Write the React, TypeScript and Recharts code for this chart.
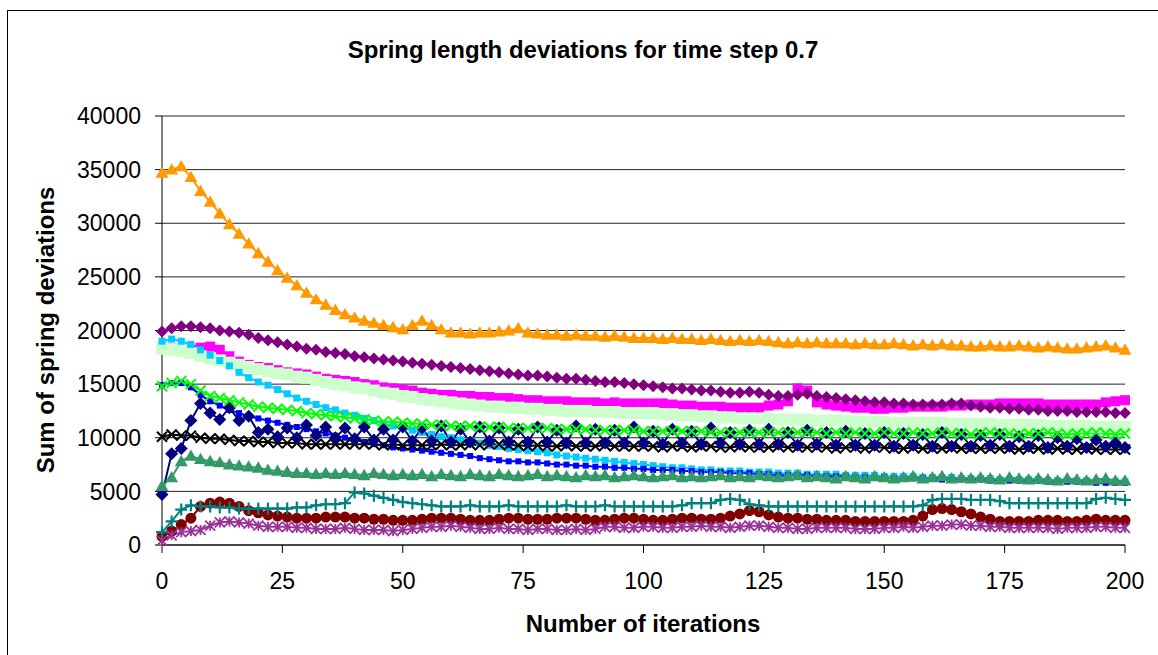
import React from 'react';
import { LineChart, Line, XAxis, YAxis, CartesianGrid } from 'recharts';

// iteration index of each sample (every second iteration)
const iterations = Array.from({ length: 101 }, (_, i) => i * 2);
const xTicks = [0, 25, 50, 75, 100, 125, 150, 175, 200];
const yTicks = [0, 5000, 10000, 15000, 20000, 25000, 30000, 35000, 40000];

const orange = [
  34700, 35000, 35300, 34300, 33000, 32000, 30900, 29900, 29000, 28100,
  27200, 26400, 25600, 24900, 24200, 23500, 22900, 22400, 21900, 21500,
  21200, 20900, 20700, 20500, 20300, 20100, 20500, 20900, 20500, 20100,
  19800, 19800, 19700, 19800, 19800, 19900, 20000, 20200, 19800, 19700,
  19600, 19600, 19500, 19600, 19500, 19500, 19400, 19500, 19400, 19300,
  19300, 19300, 19200, 19300, 19200, 19200, 19100, 19200, 19100, 19000,
  19100, 19000, 19100, 19000, 18900, 18800, 18900, 18800, 18900, 18800,
  18800, 18800, 18700, 18800, 18700, 18700, 18800, 18700, 18600, 18700,
  18600, 18700, 18600, 18600, 18500, 18500, 18600, 18500, 18500, 18600,
  18500, 18400, 18500, 18400, 18300, 18300, 18400, 18500, 18600, 18400,
  18200,
];

const purple = [
  19900, 20200, 20400, 20400, 20300, 20200, 20000, 19900, 19800, 19600,
  19300, 19100, 18900, 18700, 18500, 18300, 18200, 18000, 17900, 17800,
  17600, 17500, 17400, 17300, 17200, 17100, 17000, 16900, 16800, 16700,
  16600, 16500, 16400, 16300, 16200, 16100, 16000, 15900, 15800, 15800,
  15700, 15600, 15500, 15500, 15400, 15300, 15200, 15200, 15100, 15000,
  14900, 14800, 14700, 14600, 14600, 14500, 14400, 14400, 14300, 14200,
  14200, 14300, 14200, 14000, 13900, 13900, 14000, 14100, 13900, 13800,
  13700, 13600, 13500, 13400, 13300, 13300, 13200, 13200, 13100, 13100,
  13100, 13100, 13200, 13200, 13000, 12900, 12800, 12800, 12700, 12700,
  12600, 12600, 12500, 12500, 12500, 12400, 12400, 12400, 12400, 12300,
  12300,
];

const magenta = [
  18400, 18300, 18200, 18200, 18400, 18500, 18200, 17600, 17100, 16800,
  16600, 16500, 16300, 16100, 16000, 15900, 15700, 15500, 15400, 15300,
  15200, 15000, 14900, 14700, 14600, 14500, 14400, 14200, 14100, 14000,
  14000, 13900, 13900, 13800, 13800, 13700, 13700, 13600, 13500, 13500,
  13400, 13400, 13400, 13300, 13300, 13300, 13200, 13300, 13200, 13200,
  13200, 13200, 13200, 13100, 13000, 13000, 12900, 12900, 12900, 12800,
  12800, 12800, 12800, 13000, 13100, 13400, 14600, 14400, 13300, 13100,
  13000, 12900, 12800, 12800, 12700, 12700, 12800, 12800, 12900, 12900,
  12900, 12900, 13000, 13000, 13100, 13100, 13100, 13200, 13200, 13200,
  13200, 13200, 13100, 13100, 13100, 13100, 13100, 13100, 13300, 13400,
  13500,
];

const lightGreen = [
  18300, 18200, 18100, 17900, 17600, 17400, 17200, 17000, 16800, 16600,
  16400, 16200, 16000, 15900, 15700, 15600, 15400, 15200, 15000, 14900,
  14700, 14600, 14400, 14200, 14100, 13900, 13800, 13600, 13500, 13400,
  13300, 13200, 13100, 13000, 12900, 12900, 12800, 12800, 12700, 12700,
  12600, 12600, 12500, 12500, 12500, 12400, 12400, 12400, 12300, 12300,
  12300, 12300, 12200, 12200, 12100, 12100, 12000, 12000, 11900, 11900,
  11800, 11800, 11800, 11800, 11700, 11700, 11700, 11700, 11600, 11600,
  11600, 11600, 11500, 11500, 11500, 11500, 11400, 11400, 11400, 11400,
  11400, 11400, 11300, 11300, 11300, 11300, 11300, 11200, 11200, 11200,
  11200, 11200, 11100, 11100, 11100, 11100, 11100, 11000, 11000, 11000,
  11000,
];

const cyan = [
  19000, 19200, 19000, 18700, 18200, 17700, 17200, 16700, 16100, 15600,
  15200, 14900, 14500, 14100, 13700, 13400, 13100, 12800, 12600, 12300,
  12100, 11800, 11600, 11300, 11100, 10900, 10700, 10500, 10300, 10100,
  10000, 9800, 9700, 9500, 9300, 9200, 9000, 8900, 8800, 8700,
  8600, 8400, 8300, 8200, 8100, 8000, 7900, 7800, 7700, 7600,
  7500, 7400, 7300, 7200, 7200, 7100, 7000, 7000, 6900, 6900,
  6900, 6800, 6800, 6800, 6700, 6700, 6700, 6600, 6600, 6600,
  6600, 6500, 6500, 6500, 6500, 6400, 6400, 6400, 6400, 6300,
  6300, 6300, 6300, 6200, 6200, 6200, 6200, 6100, 6100, 6100,
  6100, 6100, 6000, 6000, 6000, 6000, 6000, 5900, 5900, 5900,
  5900,
];

const blue = [
  14900, 15100, 15100, 14700, 14000, 13400, 13000, 12600, 12300, 12000,
  11800, 11600, 11400, 11200, 11000, 10800, 10600, 10400, 10200, 10000,
  9800, 9600, 9400, 9300, 9100, 9000, 8900, 8800, 8700, 8600,
  8500, 8400, 8300, 8100, 8000, 7900, 7800, 7800, 7700, 7700,
  7600, 7500, 7500, 7400, 7400, 7300, 7300, 7200, 7200, 7100,
  7100, 7000, 7000, 7000, 6900, 6900, 6800, 6800, 6800, 6700,
  6700, 6700, 6600, 6600, 6500, 6500, 6500, 6500, 6400, 6400,
  6400, 6400, 6300, 6300, 6300, 6300, 6200, 6200, 6200, 6200,
  6200, 6100, 6100, 6100, 6100, 6100, 6000, 6000, 6000, 6000,
  6000, 6000, 5900, 5900, 5900, 5900, 5900, 5800, 5800, 5800,
  5800,
];

const greenX = [
  14800, 15100, 15300, 15000, 14400, 13900, 13700, 13500, 13300, 13100,
  12900, 12800, 12700, 12600, 12500, 12300, 12200, 12100, 12000, 11900,
  11800, 11700, 11600, 11500, 11500, 11400, 11300, 11300, 11200, 11200,
  11100, 11100, 11100, 11000, 11000, 11000, 10900, 10900, 10900, 10900,
  10900, 10800, 10800, 10800, 10800, 10700, 10700, 10700, 10700, 10700,
  10600, 10600, 10600, 10600, 10600, 10600, 10600, 10500, 10500, 10500,
  10500, 10500, 10500, 10500, 10500, 10500, 10500, 10500, 10500, 10400,
  10500, 10400, 10500, 10400, 10400, 10500, 10400, 10400, 10500, 10400,
  10400, 10500, 10400, 10400, 10300, 10400, 10500, 10400, 10400, 10300,
  10400, 10400, 10500, 10400, 10300, 10400, 10400, 10500, 10400, 10300,
  10400,
];

const blackX = [
  10100, 10300, 10200, 10200, 10000, 9900, 9900, 9800, 9700, 9700,
  9600, 9600, 9500, 9500, 9500, 9400, 9400, 9400, 9400, 9400,
  9400, 9400, 9400, 9300, 9400, 9300, 9300, 9300, 9300, 9400,
  9300, 9300, 9400, 9300, 9400, 9400, 9300, 9300, 9200, 9300,
  9200, 9200, 9300, 9200, 9200, 9200, 9300, 9200, 9200, 9200,
  9200, 9200, 9100, 9200, 9200, 9100, 9200, 9200, 9100, 9100,
  9200, 9100, 9100, 9100, 9200, 9100, 9100, 9100, 9100, 9100,
  9000, 9100, 9100, 9000, 9100, 9100, 9000, 9000, 9100, 9000,
  9000, 9000, 9100, 9000, 9000, 9000, 9000, 9000, 9000, 8900,
  9000, 9000, 8900, 9000, 8900, 8900, 9000, 8900, 8900, 8900,
  8900,
];

const navy = [
  4700, 8500, 9000, 11600, 13200, 12300, 11700, 12800, 11600, 12000,
  10500, 10800, 10100, 10900, 10000, 11200, 10200, 11000, 10000, 10900,
  9900, 11000, 9800, 10800, 9800, 11000, 9700, 10900, 9700, 11100,
  9600, 10800, 9600, 11000, 9700, 10900, 9600, 10800, 9600, 11000,
  9600, 10700, 9500, 11100, 9500, 10800, 9500, 10700, 9500, 11000,
  9500, 10600, 9400, 10800, 9500, 10600, 9400, 10900, 9500, 10500,
  9400, 10700, 9400, 10800, 9400, 10500, 9300, 10700, 9400, 10500,
  9300, 10600, 9300, 10400, 9300, 10500, 9200, 10400, 9300, 10300,
  9200, 10500, 9200, 10300, 9200, 10200, 9300, 10300, 9200, 10100,
  9200, 10200, 9100, 10000, 9200, 9900, 9100, 9800, 9200, 9500,
  9100,
];

const seaGreen = [
  5500, 6300, 7800, 8300, 8000, 7800, 7700, 7500, 7400, 7300,
  7200, 7000, 6900, 6800, 6700, 6700, 6600, 6700, 6600, 6700,
  6600, 6500, 6700, 6600, 6500, 6600, 6500, 6600, 6400, 6600,
  6500, 6400, 6600, 6500, 6400, 6600, 6500, 6400, 6500, 6600,
  6400, 6500, 6400, 6300, 6500, 6400, 6500, 6300, 6400, 6500,
  6400, 6300, 6400, 6500, 6300, 6400, 6300, 6400, 6500, 6300,
  6400, 6300, 6500, 6400, 6300, 6400, 6500, 6300, 6400, 6300,
  6200, 6400, 6300, 6200, 6400, 6300, 6200, 6300, 6400, 6200,
  6300, 6400, 6200, 6300, 6200, 6300, 6200, 6100, 6300, 6200,
  6100, 6200, 6100, 6000, 6200, 6100, 6000, 6100, 6200, 6000,
  6000,
];

const teal = [
  1200, 2200, 3300, 3700, 3600, 3600, 3500, 3500, 3400, 3400,
  3400, 3400, 3400, 3400, 3500, 3500, 3700, 3800, 3800, 3900,
  4900, 4800, 4600, 4400, 4200, 4000, 3900, 3800, 3700, 3600,
  3600, 3600, 3700, 3600, 3600, 3600, 3700, 3600, 3600, 3600,
  3600, 3600, 3700, 3600, 3600, 3600, 3700, 3600, 3600, 3600,
  3600, 3600, 3600, 3600, 3700, 3900, 3900, 3900, 4200, 4300,
  4200, 3800, 3700, 3600, 3600, 3600, 3600, 3600, 3600, 3600,
  3600, 3600, 3600, 3600, 3600, 3600, 3600, 3600, 3600, 3700,
  4200, 4300, 4300, 4300, 4200, 4200, 4200, 4100, 3900, 3900,
  3900, 3900, 3900, 3900, 3900, 3900, 3900, 4300, 4400, 4300,
  4200,
];

const maroon = [
  800, 1300, 1900, 2500, 3600, 3900, 4000, 3900, 3600, 3200,
  3000, 2800, 2700, 2600, 2500, 2500, 2500, 2600, 2600, 2600,
  2500, 2500, 2400, 2400, 2300, 2300, 2300, 2400, 2500, 2500,
  2500, 2400, 2300, 2300, 2300, 2400, 2500, 2500, 2400, 2400,
  2400, 2500, 2500, 2500, 2400, 2300, 2300, 2400, 2500, 2500,
  2400, 2300, 2300, 2400, 2500, 2500, 2400, 2400, 2500, 2700,
  2900, 3200, 3100, 2800, 2600, 2500, 2500, 2400, 2400, 2300,
  2300, 2300, 2200, 2200, 2200, 2200, 2200, 2200, 2300, 2700,
  3300, 3400, 3300, 3100, 2900, 2600, 2400, 2200, 2200, 2200,
  2200, 2300, 2300, 2300, 2200, 2200, 2300, 2400, 2300, 2300,
  2300,
];

const purpleStar = [
  400, 900, 1200, 1300, 1400, 1800, 2100, 2200, 2100, 2000,
  1800, 1700, 1700, 1700, 1600, 1600, 1500, 1500, 1500, 1600,
  1500, 1400, 1400, 1400, 1300, 1400, 1500, 1600, 1700, 1700,
  1800, 1700, 1600, 1500, 1500, 1600, 1500, 1500, 1400, 1500,
  1500, 1400, 1400, 1500, 1400, 1500, 1700, 1700, 1600, 1600,
  1700, 1700, 1600, 1600, 1700, 1700, 1800, 1700, 1700, 1600,
  1700, 1800, 1800, 1700, 1600, 1600, 1500, 1500, 1600, 1600,
  1600, 1600, 1500, 1500, 1500, 1600, 1600, 1700, 1600, 1700,
  1800, 1800, 1900, 1900, 1800, 1800, 1700, 1700, 1600, 1600,
  1600, 1600, 1600, 1500, 1600, 1600, 1600, 1700, 1700, 1600,
  1600,
];

type Shape = 'triangle' | 'diamond' | 'square' | 'circle' | 'x' | 'star' | 'plus';

// bottom to top drawing order
const series: { key: string; color: string; shape: Shape; size: number; values: number[] }[] = [
  { key: 'magenta', color: '#FF00FF', shape: 'square', size: 10, values: magenta },
  { key: 'lightGreen', color: '#CCFFCC', shape: 'square', size: 12, values: lightGreen },
  { key: 'purple', color: '#800080', shape: 'diamond', size: 12, values: purple },
  { key: 'orange', color: '#FF9900', shape: 'triangle', size: 13, values: orange },
  { key: 'cyan', color: '#00CCFF', shape: 'square', size: 7, values: cyan },
  { key: 'blue', color: '#0000FF', shape: 'square', size: 6, values: blue },
  { key: 'blackX', color: '#000000', shape: 'x', size: 10, values: blackX },
  { key: 'navy', color: '#000080', shape: 'diamond', size: 13, values: navy },
  { key: 'greenX', color: '#00FF00', shape: 'x', size: 10, values: greenX },
  { key: 'seaGreen', color: '#339966', shape: 'triangle', size: 13, values: seaGreen },
  { key: 'maroon', color: '#800000', shape: 'circle', size: 11, values: maroon },
  { key: 'teal', color: '#008080', shape: 'plus', size: 12, values: teal },
  { key: 'purpleStar', color: '#993399', shape: 'star', size: 10, values: purpleStar },
];

const data = iterations.map((it, i) => {
  const row: Record<string, number> = { it };
  series.forEach((s) => {
    row[s.key] = s.values[i];
  });
  return row;
});

const makeDot = (id: string, shape: Shape, size: number, color: string) => (props: any) => {
  const { cx, cy, index } = props;
  const k = `${id}-${index}`;
  if (cx == null || cy == null) return <g key={k} />;
  const h = size / 2;
  switch (shape) {
    case 'triangle':
      return (
        <polygon
          key={k}
          points={`${cx},${cy - h} ${cx - h},${cy + h * 0.75} ${cx + h},${cy + h * 0.75}`}
          fill={color}
        />
      );
    case 'diamond':
      return (
        <polygon
          key={k}
          points={`${cx},${cy - h} ${cx + h},${cy} ${cx},${cy + h} ${cx - h},${cy}`}
          fill={color}
        />
      );
    case 'square':
      return <rect key={k} x={cx - h} y={cy - h} width={size} height={size} fill={color} />;
    case 'circle':
      return <circle key={k} cx={cx} cy={cy} r={h} fill={color} />;
    case 'x':
      return (
        <path
          key={k}
          d={`M${cx - h},${cy - h}L${cx + h},${cy + h}M${cx - h},${cy + h}L${cx + h},${cy - h}`}
          stroke={color}
          strokeWidth={2}
          fill="none"
        />
      );
    case 'star':
      return (
        <path
          key={k}
          d={`M${cx - h},${cy - h}L${cx + h},${cy + h}M${cx - h},${cy + h}L${cx + h},${cy - h}M${cx},${cy - h}L${cx},${cy + h}`}
          stroke={color}
          strokeWidth={1.8}
          fill="none"
        />
      );
    case 'plus':
    default:
      return (
        <path
          key={k}
          d={`M${cx - h},${cy}L${cx + h},${cy}M${cx},${cy - h}L${cx},${cy + h}`}
          stroke={color}
          strokeWidth={2.2}
          fill="none"
        />
      );
  }
};

const font = '"Liberation Sans", Arial, sans-serif';

const App = () => {
  return (
    <div
      style={{
        position: 'absolute',
        left: 0,
        top: 0,
        width: 1158,
        height: 655,
        overflow: 'hidden',
        background: '#fff',
        fontFamily: font,
      }}
    >
      <div
        style={{
          position: 'absolute',
          left: 7,
          top: 10,
          width: 1300,
          height: 800,
          borderLeft: '1px solid #000',
          borderTop: '1px solid #000',
        }}
      />
      <div
        style={{
          position: 'absolute',
          left: 0,
          top: 36,
          width: 1166,
          textAlign: 'center',
          fontSize: 24,
          lineHeight: '28px',
          fontWeight: 'bold',
        }}
      >
        Spring length deviations for time step 0.7
      </div>
      <div
        style={{
          position: 'absolute',
          left: 343,
          top: 610,
          width: 600,
          textAlign: 'center',
          fontSize: 24,
          lineHeight: '28px',
          fontWeight: 'bold',
        }}
      >
        Number of iterations
      </div>
      <div
        style={{
          position: 'absolute',
          left: 46 - 200,
          top: 330 - 14,
          width: 400,
          height: 28,
          textAlign: 'center',
          fontSize: 24,
          lineHeight: '28px',
          fontWeight: 'bold',
          transform: 'rotate(-90deg)',
        }}
      >
        Sum of spring deviations
      </div>
      <div style={{ position: 'absolute', left: 0, top: 0 }}>
        <LineChart
          width={1158}
          height={655}
          data={data}
          margin={{ top: 116, right: 33, bottom: 50, left: 0 }}
        >
          <CartesianGrid vertical={false} stroke="#222" />
          <XAxis
            dataKey="it"
            type="number"
            domain={[0, 200]}
            ticks={xTicks}
            interval={0}
            height={60}
            tickSize={8}
            tickMargin={20}
            axisLine={{ stroke: '#000' }}
            tickLine={{ stroke: '#000' }}
            tick={{ fontSize: 23, fill: '#000', fontFamily: font }}
          />
          <YAxis
            type="number"
            domain={[0, 40000]}
            ticks={yTicks}
            interval={0}
            width={162}
            tickSize={7}
            tickMargin={14}
            axisLine={{ stroke: '#000' }}
            tickLine={{ stroke: '#000' }}
            tick={{ fontSize: 23, fill: '#000', fontFamily: font }}
          />
          {series.map((s) => (
            <Line
              key={s.key}
              dataKey={s.key}
              type="linear"
              stroke={s.color}
              strokeWidth={2}
              dot={makeDot(s.key, s.shape, s.size, s.color)}
              activeDot={false}
              isAnimationActive={false}
            />
          ))}
        </LineChart>
      </div>
    </div>
  );
};

export default App;
